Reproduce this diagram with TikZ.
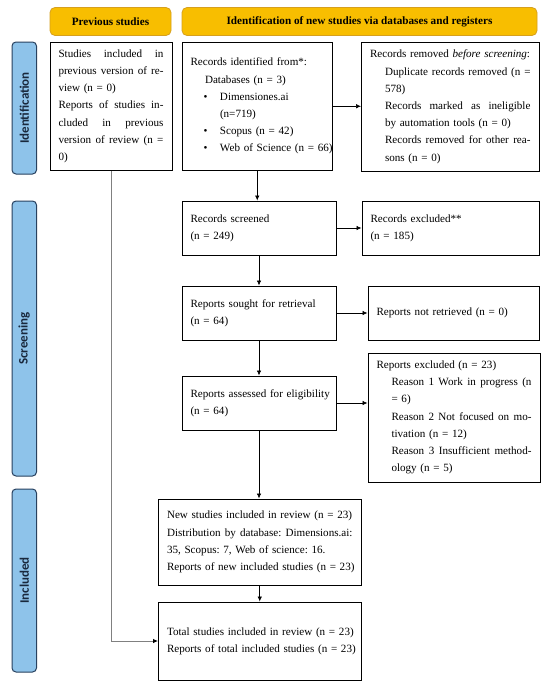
\documentclass[tikz,border=0pt]{standalone}
\usepackage{fontspec}
\setmainfont{Liberation Serif}
\newfontfamily\sidefont{Carlito}
\usetikzlibrary{arrows.meta}
\definecolor{hdrfill}{RGB}{248,190,0}
\definecolor{hdrdraw}{RGB}{214,160,30}
\definecolor{sidefill}{RGB}{142,195,234}
\definecolor{sidedraw}{RGB}{40,65,95}
\definecolor{sidetext}{RGB}{25,40,60}
\definecolor{greyline}{RGB}{128,128,128}
\frenchspacing
\newcommand\jl[1]{\hbox to\hsize{\spaceskip=0.25em plus 1fil\relax #1}}
\newcommand\lnx[1]{\hbox{#1}}
\newcommand\stk[1]{\noindent\vbox{#1}}
\newcommand\ind{\hspace*{15pt}}
\newcommand\bul{\hspace*{13pt}\makebox[16.5pt][l]{•}}
\tikzset{
  box/.style={draw, line width=1pt, inner xsep=8.5pt, inner ysep=0pt,
    font=\fontsize{11.1}{17.2}\selectfont, anchor=center},
  hdr/.style={draw=hdrdraw, fill=hdrfill, rounded corners=5pt, line width=0.8pt,
    font=\fontsize{11.2}{13}\selectfont\bfseries, inner sep=0pt, minimum height=28pt},
  side/.style={draw=sidedraw, fill=sidefill, rounded corners=4pt, line width=1pt,
    inner sep=0pt, rotate=90, minimum height=24.5pt, text=sidetext,
    font=\sidefont\bfseries\fontsize{13}{15}\selectfont},
  arr/.style={-{Latex[length=5pt,width=4.5pt]}, line width=0.7pt},
  garr/.style={-{Latex[length=5pt,width=4.5pt,black]}, line width=0.8pt, draw=greyline},
}
\begin{document}
\begin{tikzpicture}[x=1pt,y=-1pt]
\fill[white] (0,0) rectangle (550,688);
\useasboundingbox (0,0) rectangle (550,688);

% headers
\node[hdr, minimum width=121pt] (hprev) at (110.5,21.5) {Previous studies};
\node[hdr, minimum width=355pt] (hid) at (359.5,21.5) {Identification of new studies via databases and registers};

% side labels
\node[side, minimum width=132pt] (sid) at (24.25,108) {Identification};
\node[side, minimum width=275pt] (sscr) at (24.25,338.5) {Screening};
\node[side, minimum width=183pt] (sinc) at (24.25,580.5) {Included};

% boxes
\node[box, text width=105pt, minimum height=128.5pt] (b1) at (111,106.25) {\stk{%
\jl{Studies included in}%
\jl{previous version of re-}%
\lnx{view (n = 0)}%
\jl{Reports of studies in-}%
\jl{cluded in previous}%
\jl{version of review (n =}%
\lnx{0)}}};

\node[box, text width=133.5pt, minimum height=128.5pt] (b2) at (257.25,106.25) {\stk{%
\lnx{Records identified from*:}%
\lnx{\hspace*{14.5pt}Databases (n = 3)}%
\lnx{\bul Dimensiones.ai}%
\lnx{\hspace*{29.5pt}(n=719)}%
\lnx{\bul Scopus (n = 42)}%
\lnx{\bul Web of Science (n = 66)}}};

\node[box, text width=160.5pt, minimum height=129.5pt] (b3) at (450.25,106.75) {\stk{%
\lnx{Records removed \textit{before screening}:}%
\jl{\ind Duplicate records removed (n =}%
\lnx{\ind 578)}%
\jl{\ind Records marked as ineligible}%
\lnx{\ind by automation tools (n = 0)}%
\jl{\ind Records removed for other rea-}%
\lnx{\ind sons (n = 0)}}};

\node[box, text width=137pt, minimum height=54pt] (scr) at (259,228) {\stk{%
\lnx{Records screened}%
\lnx{(n = 249)}}};

\node[box, text width=160pt, minimum height=54pt] (exc) at (450.5,228) {\stk{%
\lnx{Records excluded**}%
\lnx{(n = 185)}}};

\node[box, text width=137pt, minimum height=54pt] (sought) at (259,313) {\stk{%
\lnx{Reports sought for retrieval}%
\lnx{(n = 64)}}};

\node[box, text width=154pt, minimum height=54pt] (nr) at (453.5,313) {\stk{%
\lnx{Reports not retrieved (n = 0)}}};

\node[box, text width=137pt, minimum height=54pt] (ass) at (259,403) {\stk{%
\lnx{Reports assessed for eligibility}%
\lnx{(n = 64)}}};

\node[box, text width=155pt, minimum height=129pt] (rex) at (454,417.5) {\stk{%
\lnx{Reports excluded (n = 23)}%
\jl{\ind Reason 1 Work in progress (n}%
\lnx{\ind = 6)}%
\jl{\ind Reason 2 Not focused on mo-}%
\lnx{\ind tivation (n = 12)}%
\jl{\ind Reason 3 Insufficient method-}%
\lnx{\ind ology (n = 5)}}};

\node[box, text width=185.5pt, minimum height=86pt] (new) at (259.75,542) {\stk{%
\lnx{New studies included in review (n = 23)}%
\jl{Distribution by database: Dimensions.ai:}%
\lnx{35, Scopus: 7, Web of science: 16.}%
\lnx{Reports of new included studies (n = 23)}}};

\node[box, text width=185.5pt, minimum height=78pt] (tot) at (259.75,641) {\stk{%
\lnx{Total studies included in review (n = 23)}%
\lnx{Reports of total included studies (n = 23)}}};

% connectors
\draw[arr] (b2.south) -- (b2.south |- scr.north);
\draw[arr] (b2.east) -- (b2.east -| b3.west);
\draw[arr] (scr.east) -- (exc.west);
\draw[arr] (scr.south) -- (sought.north);
\draw[arr] (sought.east) -- (nr.west);
\draw[arr] (sought.south) -- (ass.north);
\draw[arr] (ass.east) -- (ass.east -| rex.west);
\draw[arr] (ass.south) -- (ass.south |- new.north);
\draw[arr] (new.south) -- (tot.north);
\draw[garr] (b1.south) |- (tot.west);
\end{tikzpicture}
\end{document}
